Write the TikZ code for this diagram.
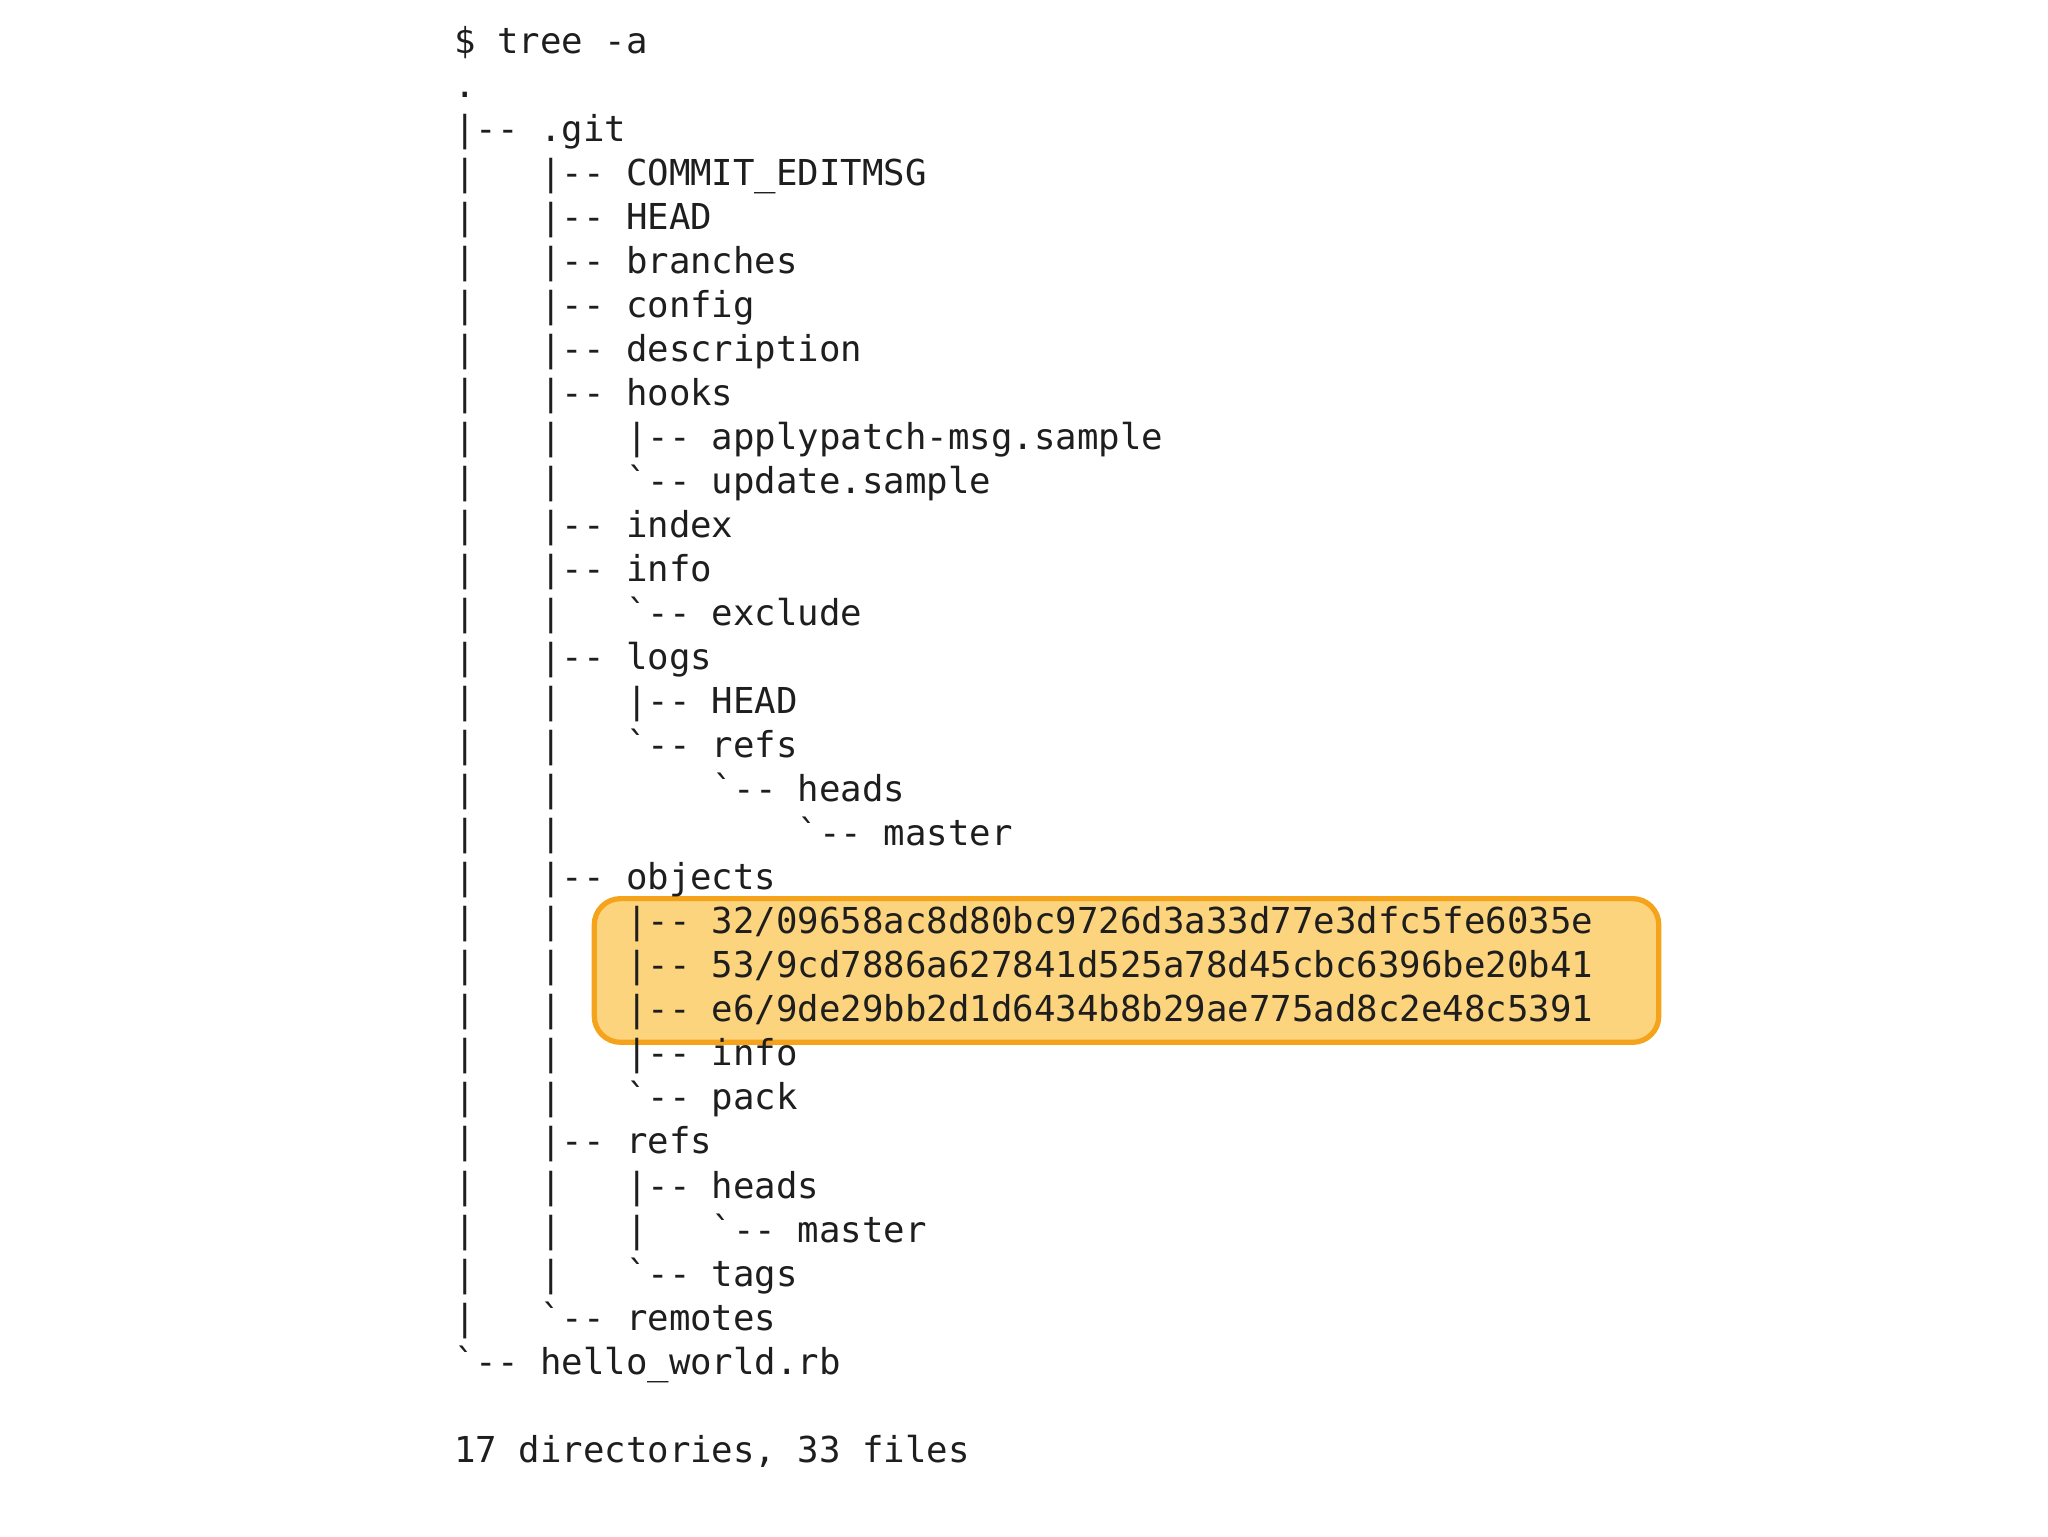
\documentclass[tikz,border=0pt]{standalone}
\usepackage{fontspec}
\newfontfamily\mono{DejaVu Sans Mono}
\definecolor{hlfill}{HTML}{FDD47E}
\definecolor{hlline}{HTML}{F5A31A}
\definecolor{txt}{HTML}{1E1E1E}
\tikzset{ln/.style={anchor=base west,inner sep=0pt,font=\mono\fontsize{8.2}{10}\selectfont,text=txt}}
\begin{document}
\begin{tikzpicture}[x=0.3pt,y=-0.3pt]
\useasboundingbox (0,0) rectangle (1568,1176);
\node[draw=hlline,line width=1.2pt,fill=hlfill,rounded corners=6pt,minimum width=815*0.3pt,minimum height=110*0.3pt,inner sep=0pt] (hl) at (862.5,743) {};
\def\L#1#2{\node[ln] (l#1) at (347,{34+#1*33.7+7}) {#2};}
\L{0}{\$~tree~-a}
\L{1}{.}
\L{2}{|--~.git}
\L{3}{|~~~|--~COMMIT\_EDITMSG}
\L{4}{|~~~|--~HEAD}
\L{5}{|~~~|--~branches}
\L{6}{|~~~|--~config}
\L{7}{|~~~|--~description}
\L{8}{|~~~|--~hooks}
\L{9}{|~~~|~~~|--~applypatch-msg.sample}
\L{10}{|~~~|~~~`--~update.sample}
\L{11}{|~~~|--~index}
\L{12}{|~~~|--~info}
\L{13}{|~~~|~~~`--~exclude}
\L{14}{|~~~|--~logs}
\L{15}{|~~~|~~~|--~HEAD}
\L{16}{|~~~|~~~`--~refs}
\L{17}{|~~~|~~~~~~~`--~heads}
\L{18}{|~~~|~~~~~~~~~~~`--~master}
\L{19}{|~~~|--~objects}
\L{20}{|~~~|~~~|--~32/09658ac8d80bc9726d3a33d77e3dfc5fe6035e}
\L{21}{|~~~|~~~|--~53/9cd7886a627841d525a78d45cbc6396be20b41}
\L{22}{|~~~|~~~|--~e6/9de29bb2d1d6434b8b29ae775ad8c2e48c5391}
\L{23}{|~~~|~~~|--~info}
\L{24}{|~~~|~~~`--~pack}
\L{25}{|~~~|--~refs}
\L{26}{|~~~|~~~|--~heads}
\L{27}{|~~~|~~~|~~~`--~master}
\L{28}{|~~~|~~~`--~tags}
\L{29}{|~~~`--~remotes}
\L{30}{`--~hello\_world.rb}
\L{32}{17~directories,~33~files}
\end{tikzpicture}
\end{document}
